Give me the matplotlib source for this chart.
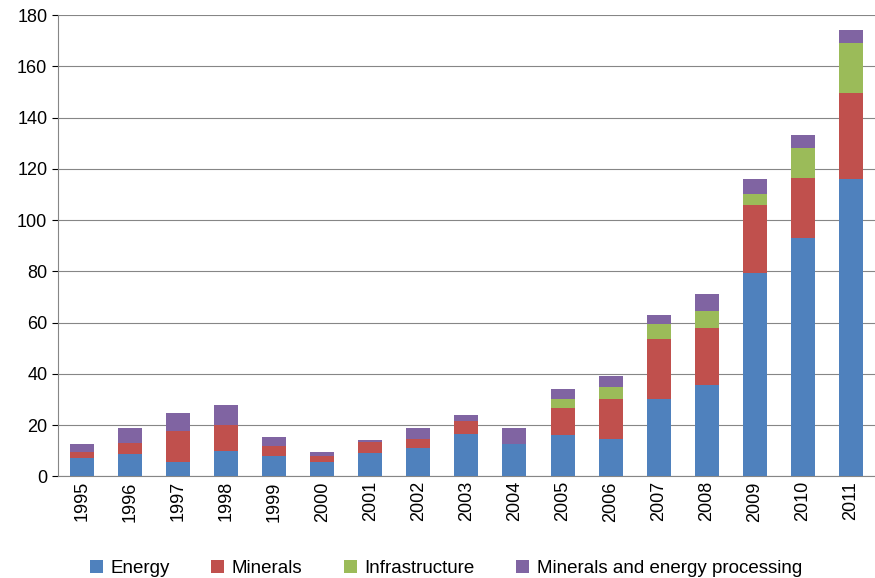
import matplotlib
matplotlib.use("Agg")
import matplotlib.pyplot as plt
import numpy as np

plt.rcParams['font.family'] = ['Liberation Sans', 'DejaVu Sans']

years = [str(y) for y in range(1995, 2012)]
energy = [7, 8.5, 5.5, 10, 8, 5.5, 9, 11, 16.5, 12.5, 16, 14.5, 30, 35.5, 79.5, 93, 116]
minerals = [2.5, 4.5, 12, 10, 4, 2.5, 4.5, 3.5, 5, 0, 10.5, 15.5, 23.5, 22.5, 26.5, 23.5, 33.5]
infrastructure = [0, 0, 0, 0, 0, 0, 0, 0, 0, 0, 3.5, 5, 6, 6.5, 4, 11.5, 19.5]
processing = [3, 6, 7, 8, 3.5, 1.5, 0.5, 4.5, 2.5, 6.5, 4, 4, 3.5, 6.5, 6, 5, 5]

series = [
    ("Energy", energy, "#4F81BD"),
    ("Minerals", minerals, "#C0504D"),
    ("Infrastructure", infrastructure, "#9BBB59"),
    ("Minerals and energy processing", processing, "#8064A2"),
]

fig = plt.figure(figsize=(8.75, 5.78), dpi=100)
ax = fig.add_axes([0.066, 0.176, 0.934, 0.798])

x = np.arange(len(years))
bottom = np.zeros(len(years))
for name, vals, col in series:
    ax.bar(x, vals, 0.5, bottom=bottom, color=col, label=name, zorder=3)
    bottom += np.array(vals)

ax.set_ylim(0, 180)
ax.set_yticks(range(0, 181, 20))
ax.set_xlim(-0.5, len(years) - 0.5)
ax.set_xticks(x)
ax.set_xticklabels(years, rotation=90, fontsize=13)
ax.tick_params(axis='y', labelsize=13, length=4)
ax.tick_params(axis='x', length=0)
ax.grid(axis='y', color='#868686', linewidth=0.8, zorder=0)
for s in ['top', 'right']:
    ax.spines[s].set_visible(False)
ax.spines['left'].set_color('#868686')
ax.spines['bottom'].set_color('#868686')

ax.legend(loc='lower center', bbox_to_anchor=(0.475, -0.255), ncol=4, frameon=False,
          fontsize=13.5, handlelength=0.7, handleheight=0.7, columnspacing=2.2, handletextpad=0.4)

fig.savefig("out.png", dpi=100)
